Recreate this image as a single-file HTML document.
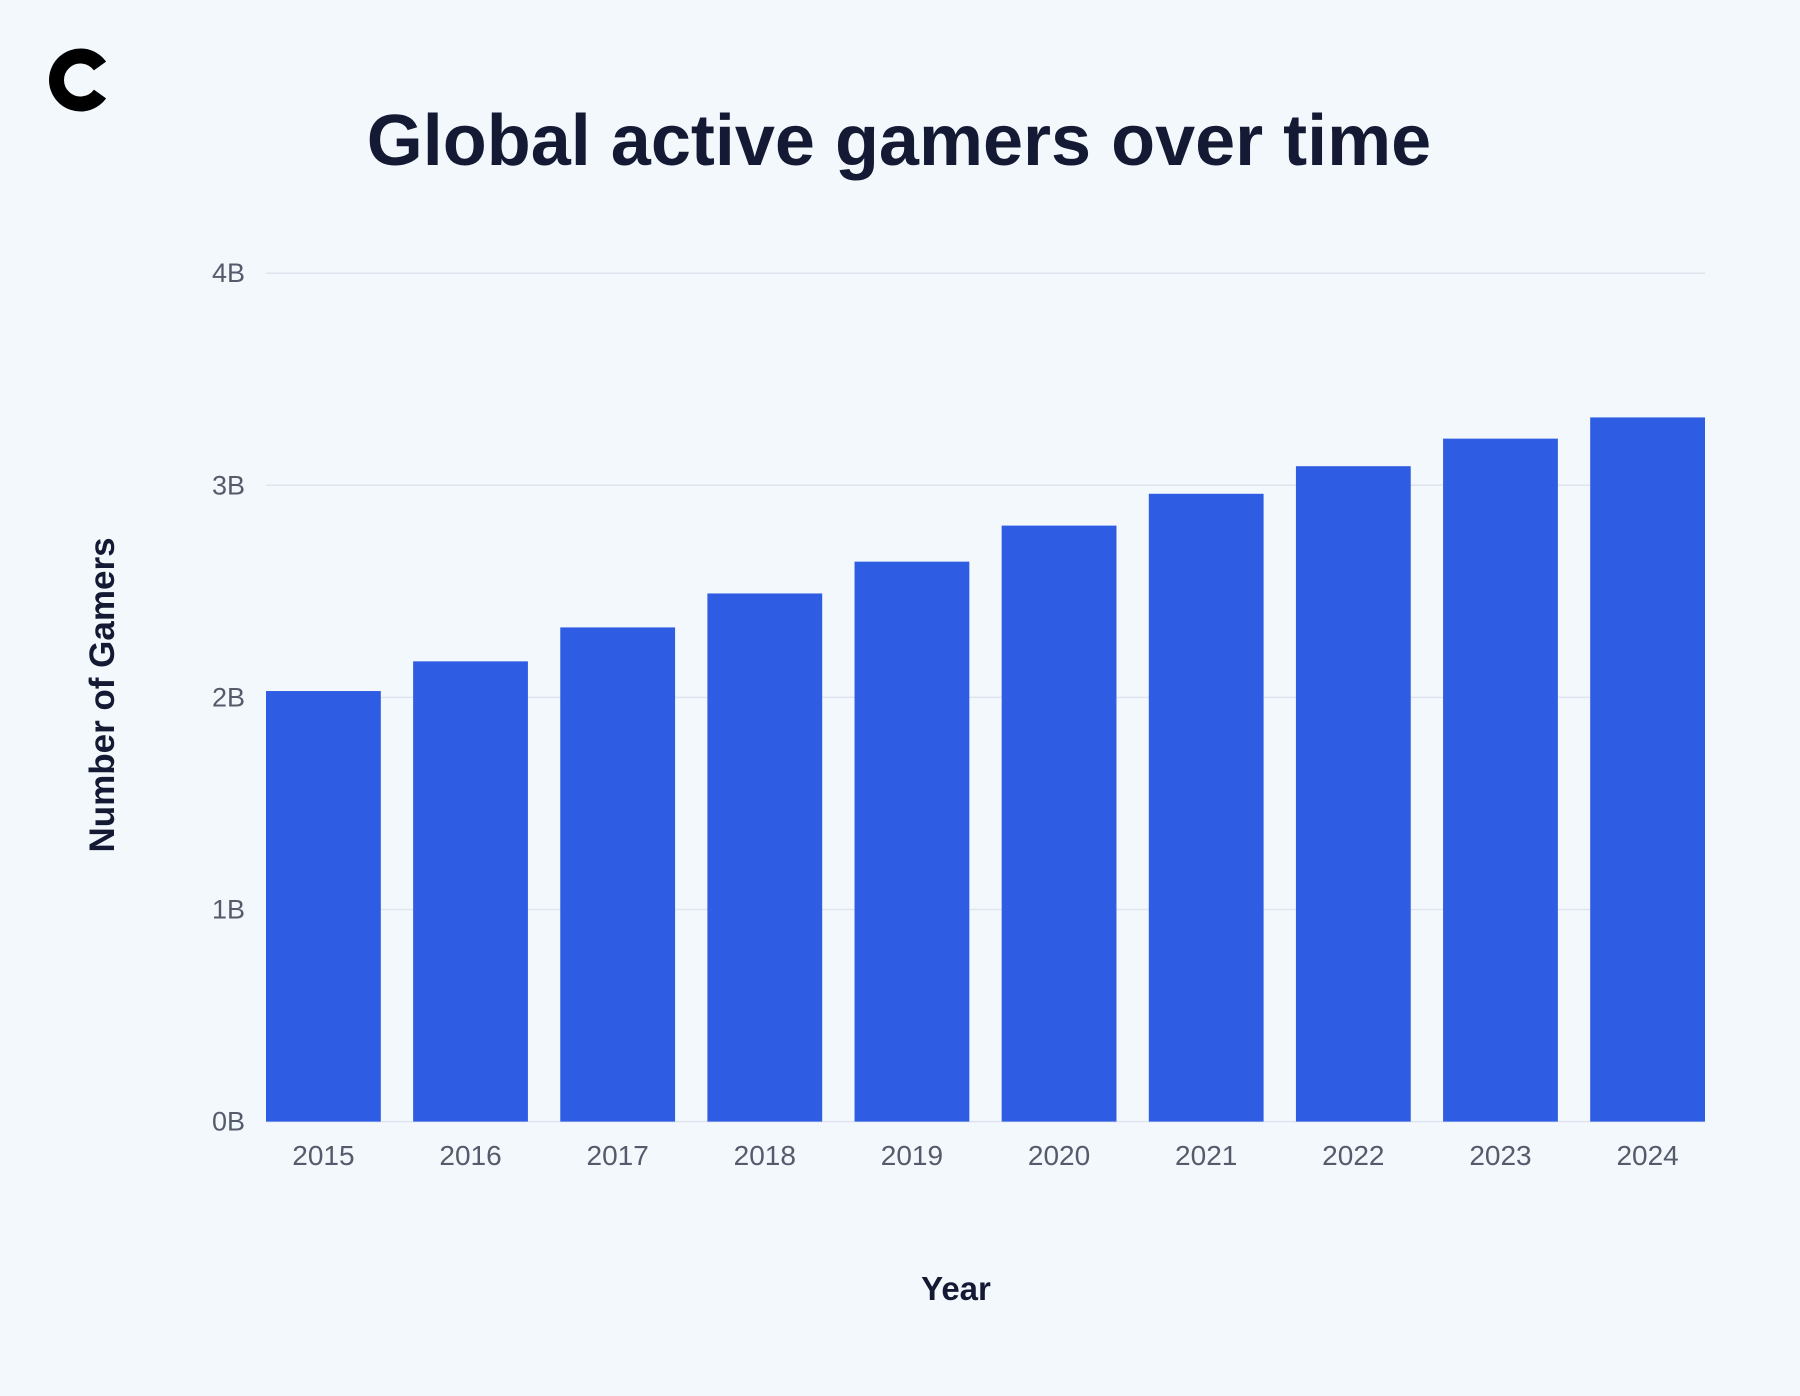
<!DOCTYPE html>
<html><head><meta charset="utf-8"><style>
html,body{margin:0;padding:0;background:#f3f8fd;}
body{width:1800px;height:1391px;position:relative;overflow:hidden;font-family:"Liberation Sans",sans-serif;}
</style></head><body>
<svg width="1800" height="1391" viewBox="0 0 1800 1391" xmlns="http://www.w3.org/2000/svg">
<rect width="1800" height="1391" fill="#f3f8fd"/>
<g>
<path d="M100 66 A24 24 0 1 0 100 94" fill="none" stroke="#000" stroke-width="15"/>
</g>
<text x="899" y="165" text-anchor="middle" font-size="72" font-weight="bold" fill="#141a33">Global active gamers over time</text>
<text transform="translate(114,695) rotate(-90)" text-anchor="middle" font-size="35" font-weight="bold" fill="#141a33">Number of Gamers</text>
<text x="956" y="1300" text-anchor="middle" font-size="33" font-weight="bold" fill="#141a33">Year</text>
<g id="grid"></g><g id="bars"></g><g id="xt"></g>
</svg>
<script>
const years=["2015","2016","2017","2018","2019","2020","2021","2022","2023","2024"];
const gamers=[2.03,2.17,2.33,2.49,2.64,2.81,2.96,3.09,3.22,3.32];
const yTicks=[0,1,2,3,4];
const yTickLabels=["0B","1B","2B","3B","4B"];
const NS="http://www.w3.org/2000/svg";
const x0=266,x1=1705,y0=1121.6,y4=273.2;
const y=v=>y0-(y0-y4)*v/4;
const bw=114.8, step=(x1-x0-bw)/(years.length-1);
const xs=i=>x0+i*step;
const grid=document.getElementById('grid'),bars=document.getElementById('bars'),xt=document.getElementById('xt');
yTicks.forEach((t,i)=>{
 const l=document.createElementNS(NS,'line');
 
 
 l.setAttribute('x1',x0);l.setAttribute('x2',x1);l.setAttribute('y1',y(t));l.setAttribute('y2',y(t));
 l.setAttribute('stroke','#dfe5ee');l.setAttribute('stroke-width','1.5');grid.appendChild(l);
 const tx=document.createElementNS(NS,'text');
 
 
 tx.setAttribute('x',245);tx.setAttribute('y',y(t)+9);tx.setAttribute('text-anchor','end');
 tx.setAttribute('font-size','27');tx.setAttribute('fill','#555b6a');tx.textContent=yTickLabels[i];grid.appendChild(tx);
});
years.forEach((yr,i)=>{
 const r=document.createElementNS(NS,'rect');
 
 
 r.setAttribute('x',xs(i));r.setAttribute('width',bw);r.setAttribute('y',y(gamers[i]));r.setAttribute('height',y0-y(gamers[i]));
 r.setAttribute('fill','#2e5ce3');bars.appendChild(r);
 const tx=document.createElementNS(NS,'text');
 
 
 tx.setAttribute('x',xs(i)+bw/2);tx.setAttribute('y',1165);tx.setAttribute('text-anchor','middle');
 tx.setAttribute('font-size','28');tx.setAttribute('fill','#555b6a');tx.textContent=yr;xt.appendChild(tx);
});
</script>
</body></html>
